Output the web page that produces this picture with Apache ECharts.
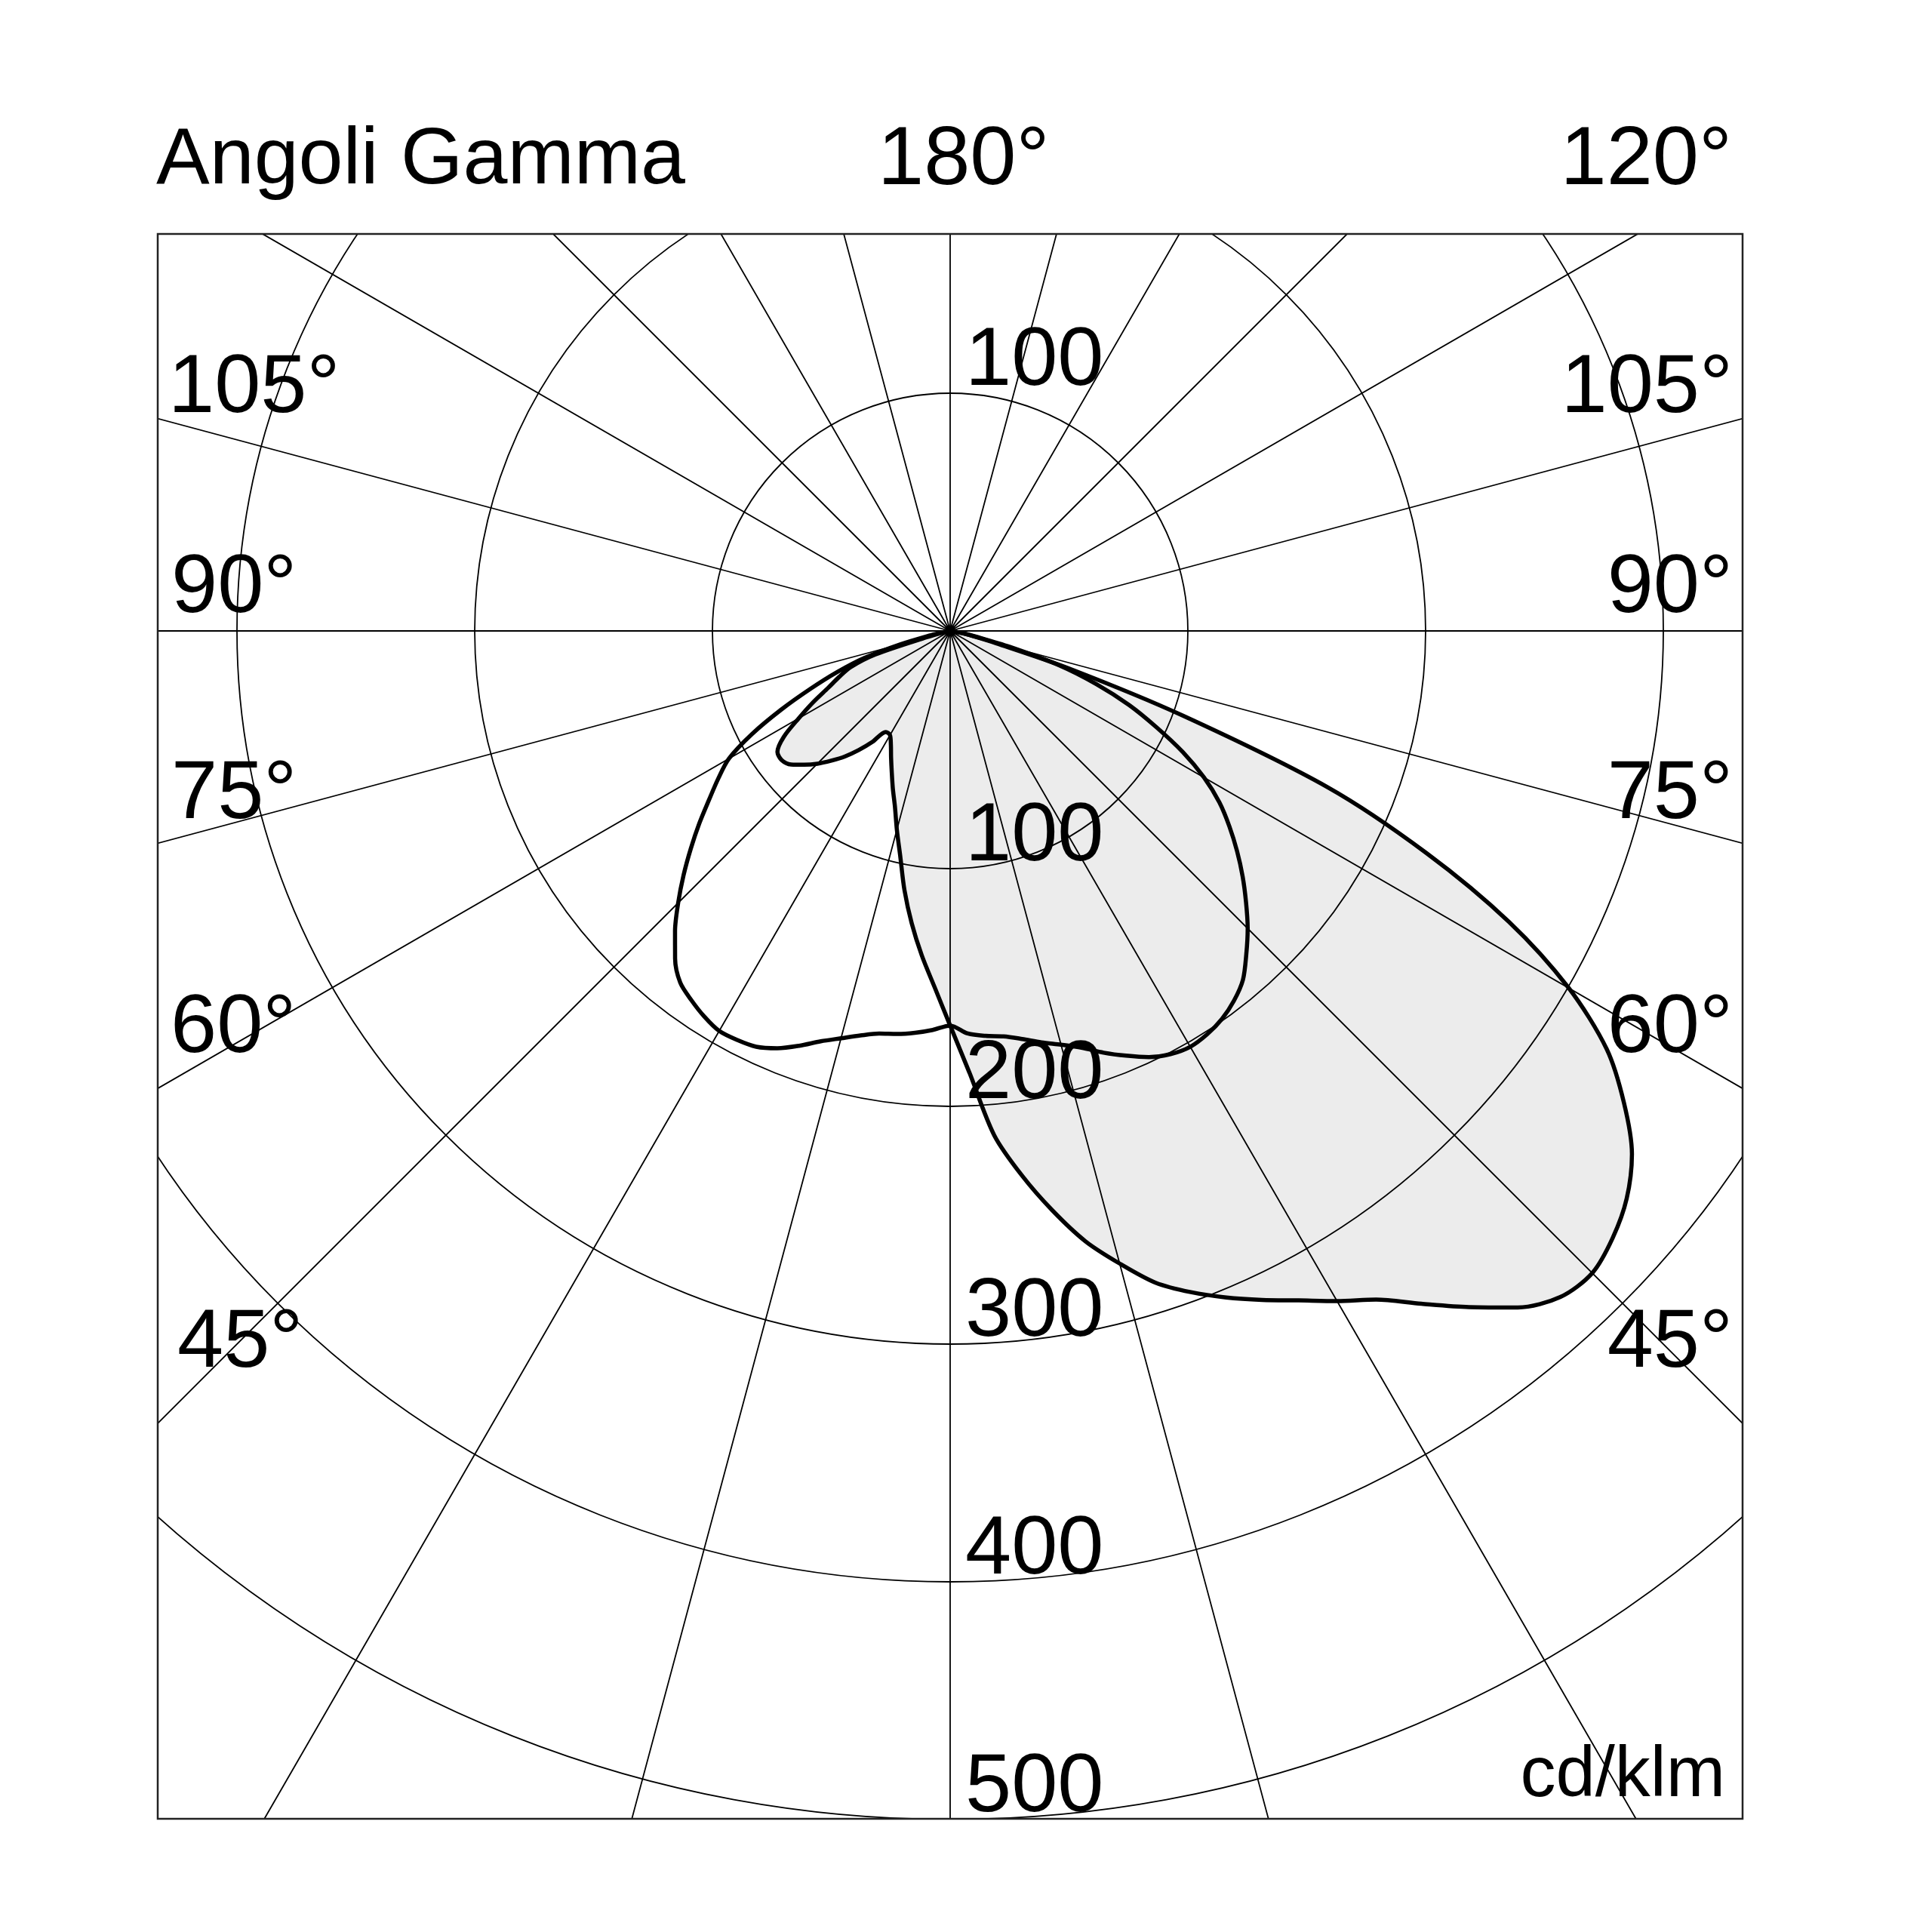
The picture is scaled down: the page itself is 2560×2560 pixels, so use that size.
<!DOCTYPE html>
<html>
<head>
<meta charset="utf-8">
<script src="https://cdn.jsdelivr.net/npm/echarts@6/dist/echarts.min.js"></script>
<style>
html,body{margin:0;padding:0;background:#fff;}
#main{width:2560px;height:2560px;}
</style>
</head>
<body>
<div id="main"></div>
<script>
// ---- data (cd/klm), gamma angles in degrees ----
const gamma = [0,2.5,5,7.5,10,12.5,15,17.5,20,22.5,25,27.5,30,32.5,35,37.5,40,42.5,45,47.5,50,52.5,55,57.5,60,62.5,65,67.5,70,72.5,75,77.5,80,82.5,85,87.5,90];
// C0 plane (right side of the filled curve)
const c0   = [166,186,213,231,247.5,263,275.5,287.5,296,303.5,310.5,317.5,325.5,333.5,345.5,358.5,371.5,380,382,378,371.5,361.5,346,327.5,300.5,265,221,172,104,52,20,9,4,2,1,0,0];
// C180 plane (left side of the filled curve)
const c180 = [166,150,137,124,110.7,97,86.6,77.3,70.5,64.2,58.8,54,50.6,50.4,57,63.2,69,74,79,83.3,87.4,89.3,88.7,83,73.6,65,56.6,50.5,44.5,33,10,3,1,0,0,0,0];
// C90 plane (right side of the outline curve)
const c90  = [166,169.5,171,172,174.3,177.3,180.2,183.8,188.8,193.4,197.8,200.7,202,201.2,199.3,196.1,191.6,184.4,177,168.8,160.6,152.1,143.4,134.3,123.3,110.3,95.6,81.5,65.5,48,26,11,5,2,1,0,0];
// C270 plane (left side of the outline curve)
const c270 = [166,168,169.7,171,172,174.3,177.4,181,185.7,190,193,194,194.3,192.4,189.7,186.5,180,171.3,161.8,152.1,142.4,133,123.8,115.7,107.5,94,78.5,63.5,50.5,38,21.5,9,4,2,1,0,0];

const radialTicks = [100,200,300,400,500];
const sideLabels = ['105°','90°','75°','60°','45°'];
const titleText = 'Angoli Gamma';
const topMidLabel = '180°';
const topRightLabel = '120°';
const unitText = 'cd/klm';

// ---- layout ----
const CX = 1259, CY = 836, R = 1575;
const BOX = {x:209, y:310, w:2100, h:2100};
const FONT = "'Liberation Sans', Arial, Helvetica, sans-serif";

function joinPlanes(leftVals, rightVals){
  const pts = [];
  for (let i = gamma.length - 1; i >= 0; i--) pts.push([leftVals[i], -gamma[i]]);
  for (let i = 1; i < gamma.length; i++) pts.push([rightVals[i], gamma[i]]);
  return pts;
}

const chart = echarts.init(document.getElementById('main'), null, {renderer:'canvas'});

const gridStyle = {color:'#000', width:1.8};
const hidden = {show:false};
chart.setOption({
  backgroundColor:'#ffffff',
  animation:false,
  polar:[
    {center:[CX, CY], radius:R},          // data + circles
    {center:[CX, CY], radius:R * 1.25}    // radial rays reaching the frame
  ],
  angleAxis:[
    {polarIndex:0, type:'value', min:-180, max:180, interval:15, startAngle:90, clockwise:false,
     axisLine:hidden, axisTick:hidden, axisLabel:hidden, splitLine:hidden},
    {polarIndex:1, type:'value', min:-180, max:180, interval:15, startAngle:90, clockwise:false,
     axisLine:hidden, axisTick:hidden, axisLabel:hidden, splitLine:{show:true, lineStyle:gridStyle}}
  ],
  radiusAxis:[
    {polarIndex:0, type:'value', min:0, max:500, interval:100,
     axisLine:hidden, axisTick:hidden, axisLabel:hidden, splitLine:{show:true, lineStyle:gridStyle}},
    {polarIndex:1, type:'value', min:0, max:625, interval:125,
     axisLine:hidden, axisTick:hidden, axisLabel:hidden, splitLine:hidden}
  ],
  series:[
    {
      name:'C0-C180', type:'line', coordinateSystem:'polar', polarIndex:0,
      data:joinPlanes(c180, c0), smooth:0.3, symbol:'none', showSymbol:false,
      lineStyle:{color:'#000', width:5.5},
      areaStyle:{color:'rgba(0,0,0,0.075)', opacity:1},
      z:3
    },
    {
      name:'C90-C270', type:'line', coordinateSystem:'polar', polarIndex:0,
      data:joinPlanes(c270, c90), smooth:0.3, symbol:'none', showSymbol:false,
      lineStyle:{color:'#000', width:5.5},
      z:4
    }
  ]
});

function toPx(r, a){
  let p = null;
  try { p = chart.convertToPixel({polarIndex:0}, [r, a]); } catch(e) { p = null; }
  if (!p || isNaN(p[0])) {
    p = [CX + Math.sin(a*Math.PI/180) * r/500*R, CY + Math.cos(a*Math.PI/180) * r/500*R];
  }
  return p;
}

const els = [];
const Z = {z:100, zlevel:1};
// white masks outside the frame
els.push(Object.assign({type:'rect', shape:{x:0,y:0,width:2560,height:BOX.y}, style:{fill:'#fff'}, silent:true}, Z));
els.push(Object.assign({type:'rect', shape:{x:0,y:BOX.y+BOX.h,width:2560,height:2560-BOX.y-BOX.h}, style:{fill:'#fff'}, silent:true}, Z));
els.push(Object.assign({type:'rect', shape:{x:0,y:0,width:BOX.x,height:2560}, style:{fill:'#fff'}, silent:true}, Z));
els.push(Object.assign({type:'rect', shape:{x:BOX.x+BOX.w,y:0,width:2560-BOX.x-BOX.w,height:2560}, style:{fill:'#fff'}, silent:true}, Z));
// frame
els.push({type:'rect', z:110, zlevel:1, shape:{x:BOX.x,y:BOX.y,width:BOX.w,height:BOX.h}, style:{fill:'none', stroke:'#222', lineWidth:2.5}, silent:true});

const DY = 8;
function txt(text, x, y, size, align){
  els.push({type:'text', z:120, zlevel:1, x:x, y:y + DY, silent:true,
    style:{text:text, fill:'#000', font:'normal ' + size + 'px ' + FONT, fontSize:size, fontFamily:FONT, align:align, verticalAlign:'middle'}});
}

// top row
txt(titleText, 207, 206, 106, 'left');
txt(topMidLabel, 1163, 206, 110, 'left');
txt(topRightLabel, 2295, 206, 110, 'right');

// gamma labels at the frame sides
const sideY = [508, 773, 1046, 1356, 1773];
const sideLeftX = [223, 227, 227, 226, 235];
sideLabels.forEach((s, i) => {
  txt(s, sideLeftX[i], sideY[i], 110, 'left');
  txt(s, 2296, sideY[i], 110, 'right');
});

// radial labels along the 0° axis (plus the upper 100)
radialTicks.forEach(v => {
  const p = toPx(v, 0);
  txt(String(v), p[0] + 20, p[1] - 49, 110, 'left');
});
const pu = toPx(radialTicks[0], 180);
txt(String(radialTicks[0]), pu[0] + 20, pu[1] - 49, 110, 'left');

// unit
txt(unitText, 2286, 2346, 94, 'right');

chart.setOption({graphic:{elements:els}});
</script>
</body>
</html>
